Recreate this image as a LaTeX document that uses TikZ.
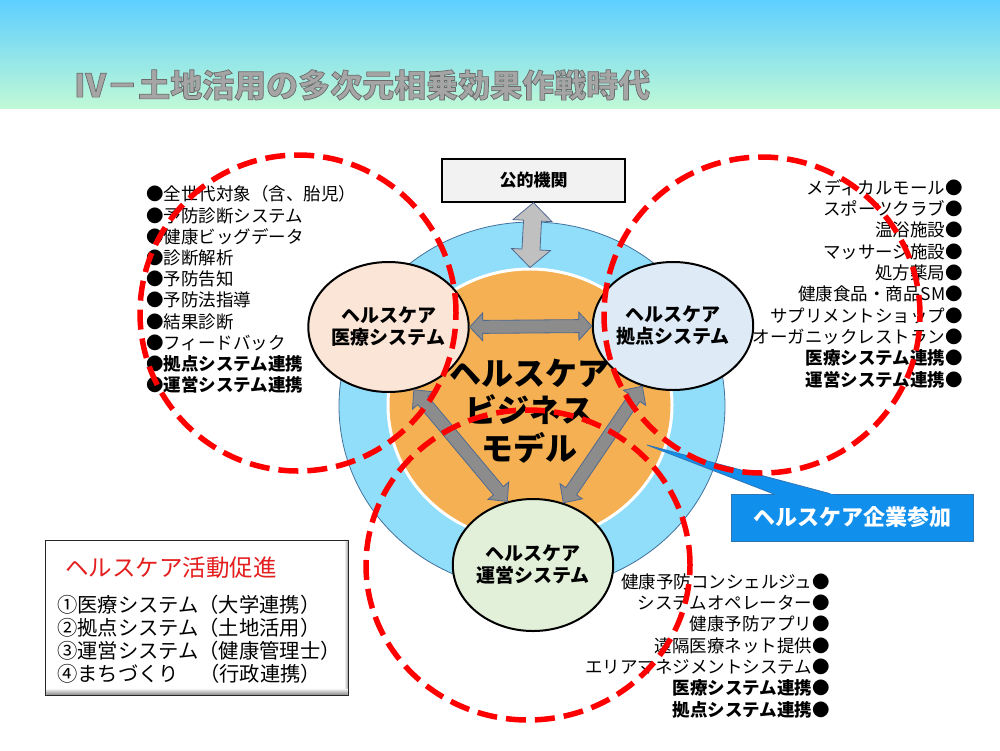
\documentclass[tikz,border=0pt]{standalone}
\usepackage{fontspec}
\setmainfont{Noto Sans CJK JP}
\usetikzlibrary{shapes.geometric,calc}

\definecolor{skyA}{RGB}{93,207,255}
\definecolor{mintB}{RGB}{192,249,214}
\definecolor{ringblue}{RGB}{145,222,250}
\definecolor{ringedge}{RGB}{65,113,156}
\definecolor{corange}{RGB}{244,176,82}
\definecolor{medfill}{RGB}{251,229,214}
\definecolor{basefill}{RGB}{222,235,247}
\definecolor{opsfill}{RGB}{226,240,217}
\definecolor{govfill}{RGB}{242,242,242}
\definecolor{calloutblue}{RGB}{16,143,236}
\definecolor{calloutedge}{RGB}{46,117,182}
\definecolor{arrowgray}{RGB}{140,140,140}
\definecolor{arrowlight}{RGB}{192,192,192}
\definecolor{arrowedge}{RGB}{80,105,145}
\definecolor{dashred}{RGB}{255,0,0}
\definecolor{titlegray}{RGB}{165,165,165}
\definecolor{legendred}{RGB}{228,30,30}

\newcommand{\dblarrow}[6]{%
  \coordinate (da1) at ($(#2)!#6!(#3)$);
  \coordinate (da2) at ($(#3)!#6!(#2)$);
  \filldraw[#1] (#2) -- ($(da1)!#5!90:(#3)$) -- ($(da1)!#4!90:(#3)$)
    -- ($(da2)!#4!-90:(#2)$) -- ($(da2)!#5!-90:(#2)$) -- (#3)
    -- ($(da2)!#5!90:(#2)$) -- ($(da2)!#4!90:(#2)$)
    -- ($(da1)!#4!-90:(#3)$) -- ($(da1)!#5!-90:(#3)$) -- cycle;
}
\newcommand{\outlinedtext}[1]{\special{pdf:literal direct 2 Tr 0.7 w 0.42 0.42 0.42 RG}#1\special{pdf:literal direct 0 Tr}}

\tikzset{
  sysnode/.style={ellipse, draw=black, line width=2pt, inner sep=0pt, align=center,
    font=\bfseries\fontsize{19pt}{22pt}\selectfont},
  listitem/.style={inner sep=0pt, font=\fontsize{17.5pt}{21pt}\selectfont,
    text height=14.5pt, text depth=1.8pt},
  legenditem/.style={inner sep=0pt, anchor=west, font=\fontsize{20.3pt}{24pt}\selectfont,
    text height=16.5pt, text depth=2pt},
  grayarrow/.style={fill=arrowgray, draw=arrowedge, line width=0.8pt, line join=miter},
  lightarrow/.style={fill=arrowlight, draw=arrowedge, line width=0.8pt, line join=miter},
  reddash/.style={draw=dashred, line width=5.5pt, dash pattern=on 20pt off 9pt}
}

\begin{document}
\begin{tikzpicture}[x=1pt,y=-1pt]
\useasboundingbox (0,0) rectangle (1000,750);
\fill[white] (0,0) rectangle (1000,750);
\shade[top color=skyA, bottom color=mintB] (0,0) rectangle (1000,108);

% title
\node[anchor=west, inner sep=0pt, text=titlegray, font=\bfseries\fontsize{32pt}{36pt}\selectfont]
  (title) at (74,85) {\outlinedtext{Ⅳ－土地活用の多次元相乗効果作戦時代}};

% rings
\node[ellipse, fill=ringblue, draw=ringedge, line width=0.8pt,
  minimum width=386pt, minimum height=368pt, inner sep=0pt] (ring) at (532,406) {};
\node[ellipse, fill=corange, draw=white, line width=3pt,
  minimum width=284pt, minimum height=272pt, inner sep=0pt] (core) at (530,405) {};
\node[align=center, inner sep=0pt, font=\bfseries\fontsize{32pt}{37.5pt}\selectfont]
  (biz) at (529,411) {ヘルスケア\\ビジネス\\モデル};

% public institution box
\node[draw=black, fill=govfill, line width=1.3pt, minimum width=183pt, minimum height=43pt,
  inner sep=0pt, font=\bfseries\fontsize{17pt}{20pt}\selectfont] (gov) at (533.5,180.5) {公的機関};

% system circles
\node[sysnode, fill=medfill, minimum width=140pt, minimum height=130pt] (med) at (388.5,327) {ヘルスケア\\医療システム};
\node[sysnode, fill=basefill, minimum width=142pt, minimum height=128pt] (base) at (673,326) {ヘルスケア\\拠点システム};
\node[sysnode, fill=opsfill, minimum width=142pt, minimum height=132pt] (ops) at (533,565) {ヘルスケア\\運営システム};

% arrows
\dblarrow{lightarrow}{gov.south}{core.north}{9pt}{19.5pt}{18pt}
\dblarrow{grayarrow}{med.east}{base.west}{6.5pt}{14pt}{13pt}
\dblarrow{grayarrow}{med.-68}{ops.112}{6.5pt}{13.5pt}{14pt}
\dblarrow{grayarrow}{base.243}{ops.64}{6.5pt}{13.5pt}{14pt}

% callout
\node[fill=calloutblue, draw=calloutedge, line width=0.8pt, minimum width=242pt, minimum height=47pt,
  inner sep=0pt, text=white, font=\bfseries\fontsize{22pt}{26pt}\selectfont] (join) at (852,517.5) {ヘルスケア企業参加};
\coordinate (tip) at (647,445);
\coordinate (p1) at ($(join.north west)!0.174!(join.north east)$);
\coordinate (p2) at ($(join.north west)!0.409!(join.north east)$);
\fill[calloutblue] (tip) -- ($(tip)!1.06!(p1)$) -- ($(tip)!1.06!(p2)$) -- cycle;
\draw[calloutedge, line width=0.8pt, line join=miter] (p1) -- (tip) -- (p2);

% left list
\foreach \t [count=\i] in {全世代対象（含、胎児）, 予防診断システム, 健康ビッグデータ, 診断解析, 予防告知,
  予防法指導, 結果診断, フィードバック, {\bfseries 拠点システム連携}, {\bfseries 運営システム連携}} {
  \node[listitem, anchor=west] (L\i) at (146,{194.5+21.2*(\i-1)}) {●\t};
}
% right list
\foreach \t [count=\i] in {メディカルモール, スポーツクラブ, 温浴施設, マッサージ施設, 処方薬局,
  健康食品・商品SM, サプリメントショップ, オーガニックレストラン, {\bfseries 医療システム連携}, {\bfseries 運営システム連携}} {
  \node[listitem, anchor=east] (R\i) at (963,{188+21.3*(\i-1)}) {\t●};
}
% bottom list
\foreach \t [count=\i] in {健康予防コンシェルジュ, システムオペレーター, 健康予防アプリ, 遠隔医療ネット提供,
  エリアマネジメントシステム, {\bfseries 医療システム連携}, {\bfseries 拠点システム連携}} {
  \node[listitem, anchor=east] (B\i) at (830,{582+21.3*(\i-1)}) {\t●};
}

% legend
\node[fill=white, minimum width=302pt, minimum height=154pt, inner sep=0pt] (legend) at (197,618) {};
\shade[top color=white, bottom color=black!45]
  ([xshift=0.5pt,yshift=0.5pt]legend.south west) rectangle ([xshift=-0.5pt,yshift=7pt]legend.south east);
\shade[left color=white, right color=black!35]
  ([xshift=-4pt,yshift=-0.5pt]legend.north east) rectangle ([xshift=-0.5pt,yshift=7pt]legend.south east);
\draw[black!85, line width=1pt] (legend.north west) rectangle (legend.south east);
\node[inner sep=0pt, anchor=west, text=legendred, font=\fontsize{23.5pt}{27pt}\selectfont]
  (legtitle) at (65,568) {ヘルスケア活動促進};
\node[legenditem] (g1) at (57,605) {①医療システム（大学連携）};
\node[legenditem] (g2) at (57,628) {②拠点システム（土地活用）};
\node[legenditem] (g3) at (57,651) {③運営システム（健康管理士）};
\node[legenditem] (g4) at (57,674) {④まちづくり　（行政連携）};

% red dashed circles
\draw[reddash] (298,313) circle [radius=158pt];
\draw[reddash] (762,315) circle [radius=158pt];
\draw[reddash] (528,565) ellipse [x radius=162pt, y radius=155pt];
\end{tikzpicture}
\end{document}
